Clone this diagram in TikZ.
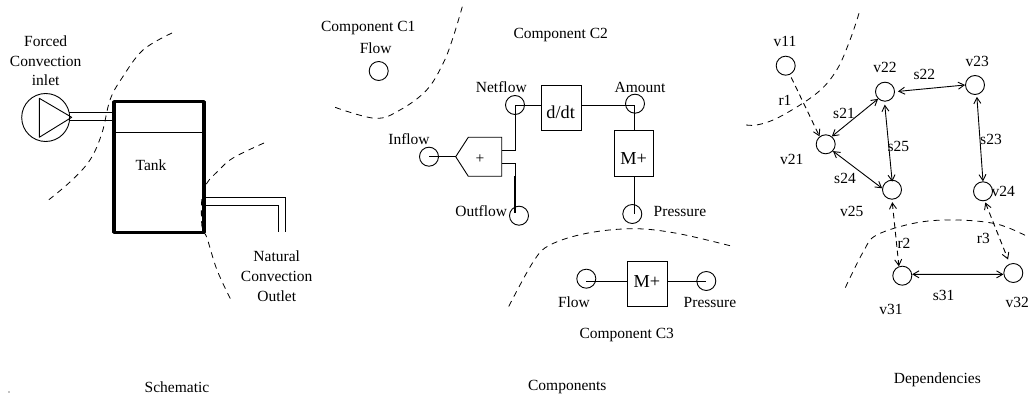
\documentclass[tikz,border=0pt]{standalone}
\usepackage{fontspec}
\setmainfont{Liberation Serif}
\usetikzlibrary{arrows.meta,shapes.geometric}
\tikzset{
  lbl/.style={inner sep=0pt,font=\fontsize{15.5}{17}\selectfont},
  big/.style={inner sep=0pt,font=\fontsize{18.3}{20}\selectfont},
  port/.style={circle,draw,line width=0.9pt,minimum size=19pt,inner sep=0pt},
  fbox/.style={rectangle,draw,line width=0.9pt,inner sep=0pt},
  wire/.style={line width=0.9pt},
  bound/.style={line width=0.8pt,dash pattern=on 6pt off 5pt,smooth,tension=0.6},
  dep/.style={line width=0.9pt,{Straight Barb[length=6pt,width=7pt]}-{Straight Barb[length=6pt,width=7pt]}},
  rel/.style={dep,dash pattern=on 5.5pt off 4pt},
  relone/.style={line width=0.9pt,-{Straight Barb[length=6pt,width=7pt]},dash pattern=on 5.5pt off 4pt}
}
\begin{document}
\begin{tikzpicture}[x=1pt,y=-1pt]
\useasboundingbox (0,0) rectangle (1029,398);
% ---------- Schematic
\draw[bound] plot coordinates {(172,33) (143,50) (122,78) (110,100) (102,133) (90,160) (70,182) (46,202)};
\draw[bound] plot coordinates {(264,143) (233,158) (217,172) (207,183) (202,197) (202,227) (207,238) (217,270) (231,300)};
\node[port,minimum size=48pt] (pump) at (45.7,117.5) {};
\draw[wire,line join=round] (39.3,98.3) -- (39.3,137.3) -- (71.7,117.3) -- cycle;
\draw[wire] (69,112.7) -- (114,112.7) (69,120.7) -- (114,120.7);
\node[rectangle,draw,line width=3.4pt,line join=round,minimum width=90pt,minimum height=130.6pt,inner sep=0pt] (tank) at (159,167) {};
\draw[wire] (114,132.3) -- (204,132.3);
\draw[wire] (204,197.3) -- (285,197.3) -- (285,232.3);
\draw[wire] (204,205) -- (278.3,205) -- (278.3,232.3);
\node[lbl] (tanklbl) at (151,165) {Tank};
\node[lbl] (forced) at (45.7,41) {Forced};
\node[lbl] (conv1) at (45.7,61) {Convection};
\node[lbl] (inlet) at (45.7,80) {inlet};
\node[lbl] (natural) at (276.7,256) {Natural};
\node[lbl] (conv2) at (276.7,276.7) {Convection};
\node[lbl] (outlet) at (276.7,296) {Outlet};
\node[lbl] (schem) at (177,387) {Schematic};
\fill (9,392) circle (0.6pt);
% ---------- Components
\draw[bound] plot coordinates {(462.3,6.7) (453.3,36.7) (443.3,63) (426.7,90) (400,110) (375,118.3) (333.3,106.7)};
\draw[bound] plot coordinates {(730,245.7) (676.7,233.3) (633.3,228.7) (586.7,233.3) (550,245) (533.3,261.7) (508.3,307.3)};
\node[lbl] (c1) at (368.3,28.3) {Component C1};
\node[lbl] (c1flow) at (375.7,48) {Flow};
\node[port] (c1p) at (378.7,71) {};
\node[lbl] (c2) at (560.7,35) {Component C2};
\node[lbl] (netl) at (501.3,87) {Netflow};
\node[port] (net) at (515,105) {};
\node[fbox,minimum width=39.7pt,minimum height=45.4pt] (ddt) at (561.1,108) {};
\node[big] (ddtl) at (560.7,112.7) {d/dt};
\node[lbl] (amtl) at (640,87.3) {Amount};
\node[port] (amt) at (635,103.7) {};
\node[fbox,minimum width=39.7pt,minimum height=45.6pt] (mp) at (633.9,153.5) {};
\node[big] (mpl) at (633.7,158.3) {M+};
\node[port] (prs) at (632.3,214) {};
\node[lbl] (prsl) at (680,211.3) {Pressure};
\node[lbl] (infl) at (409,139) {Inflow};
\node[port] (inf) at (429,156.7) {};
\node[lbl] (plus) at (480,159.3) {+};
\node[lbl] (outl) at (481.3,211) {Outflow};
\node[port] (out) at (519,215.7) {};
\coordinate (pt) at (455.7,156.7);
\coordinate (pa) at (501.7,150.3);
\coordinate (pb) at (501.7,163.3);
\coordinate (amtc) at (634,105);
\draw[wire,line join=miter] (pt) -- (468.3,137.3) -- (501.7,137.3) -- (501.7,176.3) -- (468.3,176.3) -- cycle;
\draw[wire] (inf.center) -- (pt);
\draw[wire] (pa) -| (net.center);
\draw[wire] (pb) -| (515,176);
\draw[line width=1.3pt] (515,176) -- (515,213.3);
\draw[wire] (net.center) -- (ddt.west |- net.center);
\draw[wire] (ddt.east |- amtc) -- (amtc) -- (mp.north -| amtc);
\draw[wire] (mp.south -| amtc) -- (prs.center -| amtc);
\node[port] (fl3) at (586.3,278.7) {};
\node[fbox,minimum width=39.7pt,minimum height=45.7pt] (mp3) at (647.1,284.1) {};
\node[big] (mp3l) at (647,281.7) {M+};
\node[port] (pr3) at (706.3,281) {};
\coordinate (l3) at (586.3,281);
\draw[wire] (l3) -- (mp3.west |- l3);
\draw[wire] (mp3.east |- l3) -- (pr3.center);
\node[lbl] (fl3l) at (574,302.3) {Flow};
\node[lbl] (pr3l) at (710,302.3) {Pressure};
\node[lbl] (c3) at (626.7,335) {Component C3};
\node[lbl] (comps) at (567.3,387.3) {Components};
% ---------- Dependencies
\draw[bound] plot coordinates {(859,13.3) (850,40) (836.7,70) (816.7,93.3) (780,116.7) (756.7,125) (742.7,124.3)};
\draw[bound] plot coordinates {(1025,235.3) (996.7,224) (956.7,220) (916.7,222.7) (876.7,235) (863.3,251.7) (845,288.3)};
\node[port] (v11) at (785.7,65.7) {};
\node[port] (v22) at (885,91.7) {};
\node[port] (v23) at (975,85) {};
\node[port] (v21) at (825.7,144.3) {};
\node[port] (v25) at (892,189.7) {};
\node[port] (v24) at (983,191.3) {};
\node[port] (v31) at (902.3,275.7) {};
\node[port] (v32) at (1013.3,273) {};
\node[lbl] (v11l) at (785,41) {v11};
\node[lbl] (v22l) at (885,67.7) {v22};
\node[lbl] (v23l) at (977.3,61.3) {v23};
\node[lbl] (v21l) at (791.7,159.7) {v21};
\node[lbl] (v25l) at (851.7,211) {v25};
\node[lbl] (v24l) at (1003.3,191.7) {v24};
\node[lbl] (v31l) at (891,309.7) {v31};
\node[lbl] (v32l) at (1017.3,302.7) {v32};
\node[lbl] (s22) at (924.3,74.7) {s22};
\node[lbl] (r1) at (785,100.7) {r1};
\node[lbl] (s21) at (844,113.3) {s21};
\node[lbl] (s25) at (898.3,146) {s25};
\node[lbl] (s23) at (991,139) {s23};
\node[lbl] (s24) at (845,178.7) {s24};
\node[lbl] (r2) at (904,243.7) {r2};
\node[lbl] (r3) at (983.3,238) {r3};
\node[lbl] (s31) at (943.7,295) {s31};
\node[lbl] (deps) at (937.3,380) {Dependencies};
\draw[relone,shorten <=3pt] (v11.-65) -- (v21.128);
\draw[dep] (v22.226) -- (v21.52);
\draw[dep,shorten <=3pt,shorten >=-2pt] (v22.267) -- (v25.90);
\draw[dep] (v21.-43) -- (v25.172);
\draw[dep,shorten <=3pt] (v22.0) -- (v23.180);
\draw[dep,shorten <=2pt] (v23.-80) -- (v24.90);
\draw[rel,shorten <=2.5pt] (v25.-90) -- (v31.110);
\draw[rel,shorten <=1.5pt,shorten >=4.5pt] (v24.-80) -- (v32.111);
\draw[dep] (v31.8) -- (v32.188);
\end{tikzpicture}
\end{document}
